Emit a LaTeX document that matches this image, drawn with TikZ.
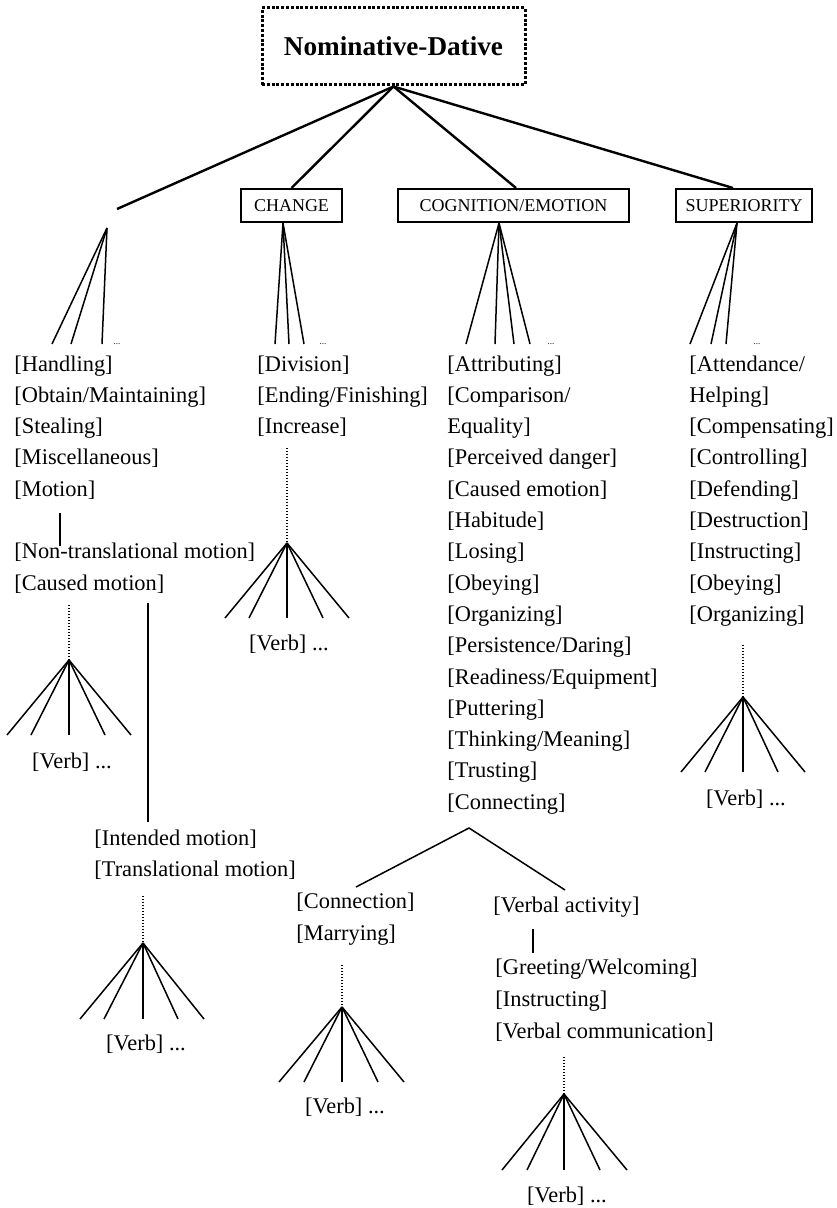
\documentclass[tikz,border=0pt]{standalone}
\usepackage{fontspec}
\setmainfont{Liberation Serif}
\begin{document}
\begin{tikzpicture}[x=0.5pt,y=-0.5pt,
  lbl/.style={anchor=base west, inner sep=0pt, font=\fontsize{11.2}{13}\selectfont},
  verbtxt/.style={anchor=base, inner sep=0pt, font=\fontsize{11.2}{13}\selectfont},
  catbox/.style={draw, line width=1pt, inner sep=0pt, minimum height=16.5pt, font=\fontsize{9}{10}\selectfont},
  rootbox/.style={draw, line width=1.5pt, dash pattern=on 1.5pt off 0.9pt, minimum width=131.5pt, minimum height=38.5pt, inner sep=0pt, font=\bfseries\fontsize{13.6}{15}\selectfont},
  trunk/.style={line width=1.2pt},
  fanline/.style={line width=0.75pt},
  dotline/.style={line width=0.6pt, dash pattern=on 0.6pt off 0.9pt},
  tinydots/.style={anchor=base, inner sep=0pt, font=\fontsize{4.5}{5}\selectfont}]
\useasboundingbox (0,0) rectangle (836,1208);

% root
\node[rootbox] (root) at (393.5,46.5) {Nominative-Dative};

% category boxes
\node[catbox, minimum width=50.5pt] (change) at (291.5,205.5) {CHANGE};
\node[catbox, minimum width=115.5pt] (cog) at (513.5,205.5) {COGNITION/EMOTION};
\node[catbox, minimum width=68pt] (sup) at (744,205.5) {SUPERIORITY};
\coordinate (lend) at (117,209);
\coordinate (lapex) at (107,228);

\draw[trunk] (root.south) -- (lend);
\draw[trunk] (root.south) -- (change.north);
\draw[trunk] (root.south) -- ([xshift=1.25pt]cog.north);
\draw[trunk] (root.south) -- ([xshift=-5.5pt]sup.north);

% apexes of category fans
\coordinate (chapex) at ([xshift=-4.25pt]change.south);
\coordinate (cogapex) at ([xshift=-7.25pt]cog.south);
\coordinate (supapex) at ([xshift=-3.5pt]sup.south);

\foreach \x [count=\i] in {52,71,102} {\coordinate (lb\i) at (\x,344); \draw[fanline] (lapex) -- (lb\i);}
\foreach \x [count=\i] in {275,289,304} {\coordinate (chb\i) at (\x,344); \draw[fanline] (chapex) -- (chb\i);}
\foreach \x [count=\i] in {466,495,514,530} {\coordinate (cgb\i) at (\x,344); \draw[fanline] (cogapex) -- (cgb\i);}
\foreach \x [count=\i] in {690,711,726} {\coordinate (spb\i) at (\x,344); \draw[fanline] (supapex) -- (spb\i);}
\node[tinydots] (d1) at (117,344) {...};
\node[tinydots] (d2) at (323,344) {...};
\node[tinydots] (d3) at (551,344) {...};
\node[tinydots] (d4) at (757,344) {...};

% left column
\foreach \t [count=\i from 0] in {{[Handling]},{[Obtain/Maintaining]},{[Stealing]},{[Miscellaneous]},{[Motion]}}
  \node[lbl] (L\i) at (14,{371+31.3*\i}) {\t};
\node[lbl] (nontr) at (14,558.8) {[Non-translational motion]};
\node[lbl] (caused) at (14,590) {[Caused motion]};
\coordinate (mv1) at (60,513); \coordinate (mv2) at (60,546);
\draw[fanline] (mv1) -- (mv2);

% caused motion fan
\coordinate (cmtop) at (69,605); \coordinate (cmapex) at (69,660);
\draw[dotline] (cmtop) -- (cmapex);
\foreach \x [count=\i] in {7,31,69,105,131} {\coordinate (cmb\i) at (\x,735); \draw[fanline] (cmapex) -- (cmb\i);}
\node[verbtxt] (verb1) at (72,768.5) {[Verb] ...};

% long line to intended motion
\coordinate (lv1) at (148,603); \coordinate (lv2) at (148,822);
\draw[fanline] (lv1) -- (lv2);
\node[lbl] (intended) at (94,845.5) {[Intended motion]};
\node[lbl] (transl) at (94,876.8) {[Translational motion]};
\coordinate (tmtop) at (143,896); \coordinate (tmapex) at (143,943);
\draw[dotline] (tmtop) -- (tmapex);
\foreach \x [count=\i] in {80,104,143,178,204} {\coordinate (tmb\i) at (\x,1019); \draw[fanline] (tmapex) -- (tmb\i);}
\node[verbtxt] (verb2) at (146,1050.5) {[Verb] ...};

% change column
\foreach \t [count=\i from 0] in {{[Division]},{[Ending/Finishing]},{[Increase]}}
  \node[lbl] (C\i) at (257,{371+31.3*\i}) {\t};
\coordinate (chtop) at (287,448); \coordinate (chvapex) at (287,543);
\draw[dotline] (chtop) -- (chvapex);
\foreach \x [count=\i] in {225,249,287,323,349} {\coordinate (chv\i) at (\x,618); \draw[fanline] (chvapex) -- (chv\i);}
\node[verbtxt] (verb3) at (289,650.5) {[Verb] ...};

% cognition column
\foreach \t [count=\i from 0] in {{[Attributing]},{[Comparison/},{Equality]},{[Perceived danger]},{[Caused emotion]},{[Habitude]},{[Losing]},{[Obeying]},{[Organizing]},{[Persistence/Daring]},{[Readiness/Equipment]},{[Puttering]},{[Thinking/Meaning]},{[Trusting]},{[Connecting]}}
  \node[lbl] (G\i) at (447,{371+31.3*\i}) {\t};
\coordinate (vapex) at (469,828);
\coordinate (vleft) at (356,887);
\coordinate (vright) at (565,890);
\draw[fanline] (vleft) -- (vapex) -- (vright);

\node[lbl] (connection) at (296,908.5) {[Connection]};
\node[lbl] (marrying) at (296,940) {[Marrying]};
\coordinate (mrtop) at (342,965); \coordinate (mrapex) at (342,1007);
\draw[dotline] (mrtop) -- (mrapex);
\foreach \x [count=\i] in {279,304,342,378,404} {\coordinate (mrb\i) at (\x,1082); \draw[fanline] (mrapex) -- (mrb\i);}
\node[verbtxt] (verb4) at (345,1113.5) {[Verb] ...};

\node[lbl] (verbact) at (493,912) {[Verbal activity]};
\coordinate (va1) at (533,929); \coordinate (va2) at (533,953);
\draw[fanline] (va1) -- (va2);
\node[lbl] (greet) at (495,974.5) {[Greeting/Welcoming]};
\node[lbl] (instr) at (495,1006) {[Instructing]};
\node[lbl] (vcomm) at (495,1038) {[Verbal communication]};
\coordinate (vctop) at (564,1057); \coordinate (vcapex) at (564,1094);
\draw[dotline] (vctop) -- (vcapex);
\foreach \x [count=\i] in {502,527,564,600,627} {\coordinate (vcb\i) at (\x,1170); \draw[fanline] (vcapex) -- (vcb\i);}
\node[verbtxt] (verb5) at (567,1202.5) {[Verb] ...};

% superiority column
\foreach \t [count=\i from 0] in {{[Attendance/},{Helping]},{[Compensating]},{[Controlling]},{[Defending]},{[Destruction]},{[Instructing]},{[Obeying]},{[Organizing]}}
  \node[lbl] (S\i) at (689,{371+31.3*\i}) {\t};
\coordinate (sptop) at (743,645); \coordinate (spvapex) at (743,697);
\draw[dotline] (sptop) -- (spvapex);
\foreach \x [count=\i] in {681,705,743,778,805} {\coordinate (spv\i) at (\x,772); \draw[fanline] (spvapex) -- (spv\i);}
\node[verbtxt] (verb6) at (746,805.5) {[Verb] ...};
\end{tikzpicture}
\end{document}
